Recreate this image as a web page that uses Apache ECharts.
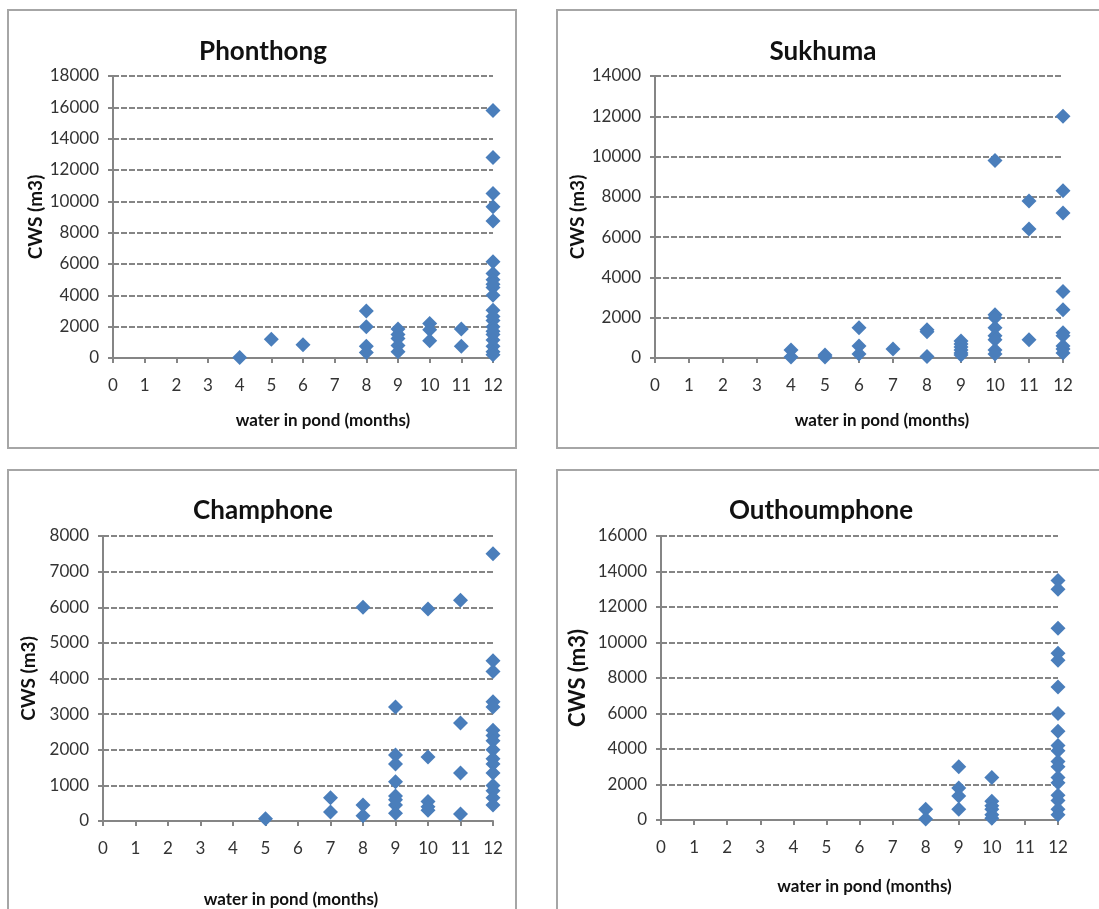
<!DOCTYPE html>
<html>
<head>
<meta charset="utf-8">
<script src="https://cdn.jsdelivr.net/npm/echarts@6/dist/echarts.min.js"></script>
<style>
  html, body { margin: 0; padding: 0; background: #fff; }
  #chart { width: 1099px; height: 909px; }
</style>
</head>
<body>
<div id="chart"></div>
<script>
// months of water in pond -> CWS values (m3)
var phonthong = [
  [4, [30]],
  [5, [1200]],
  [6, [850]],
  [8, [3000, 2000, 750, 350]],
  [9, [1850, 1500, 1250, 800, 400]],
  [10, [2200, 1800, 1100]],
  [11, [1850, 750]],
  [12, [15800, 12800, 10500, 9650, 8750, 6150, 5400, 5000, 4700, 4500, 4000, 3050, 2650, 2400, 2000, 1700, 1500, 1150, 750, 400, 200]]
];
var sukhuma = [
  [4, [400, 50]],
  [5, [150, 50]],
  [6, [1500, 600, 200]],
  [7, [450]],
  [8, [1400, 1300, 80]],
  [9, [850, 700, 550, 400, 250, 150]],
  [10, [9800, 2150, 2000, 1500, 1100, 900, 400, 200]],
  [11, [7800, 6400, 900]],
  [12, [12000, 8300, 7200, 3300, 2400, 1250, 1100, 600, 450, 250]]
];
var champhone = [
  [5, [60]],
  [7, [650, 250]],
  [8, [6000, 450, 150]],
  [9, [3200, 1850, 1600, 1100, 700, 600, 450, 220]],
  [10, [5950, 1800, 550, 400, 300]],
  [11, [6200, 2750, 1350, 200]],
  [12, [7500, 4500, 4200, 3350, 3200, 2550, 2400, 2250, 2000, 1750, 1600, 1350, 1000, 850, 650, 450]]
];
var outhoumphone = [
  [8, [600, 50]],
  [9, [3000, 1800, 1350, 600]],
  [10, [2400, 1050, 800, 600, 300, 100]],
  [12, [13500, 13000, 10800, 9400, 9000, 7500, 6000, 5000, 4200, 3900, 3300, 3000, 2400, 2100, 1400, 1100, 600, 300]]
];
var titles = ['Phonthong', 'Sukhuma', 'Champhone', 'Outhoumphone'];
var yMax = [18000, 14000, 8000, 16000];
var yStep = [2000, 2000, 1000, 2000];

function points(groups) {
  var out = [];
  groups.forEach(function (g) {
    g[1].forEach(function (v) { out.push([g[0], v]); });
  });
  return out;
}
var stations = [phonthong, sukhuma, champhone, outhoumphone];

// layout of the four panels
var grids = [
  { left: 113, top: 76, width: 380, height: 282 },
  { left: 655, top: 76, width: 408, height: 282 },
  { left: 103, top: 536, width: 390, height: 291 },
  { left: 661, top: 536, width: 397, height: 284 }
];
var titlePos = [[258, 34], [818, 34], [258, 493], [816, 493]];
var titleSize = [26, 26, 26, 26];
var xNamePad = [[0, 0, 0, 40], [0, 0, 0, 46], [0, 14, 0, 0], [0, 0, 0, 10]];
var xNameGap = [54, 54, 70, 58];
var yNameGap = [68, 68, 65, 72];
var yNameSize = [19, 19, 19, 22];
var font = 'Lato, "Open Sans", sans-serif';
var gray = '#858585';

var option = {
  animation: false,
  textStyle: { fontFamily: font },
  title: titles.map(function (t, i) {
    return {
      text: t, left: titlePos[i][0], top: titlePos[i][1], textAlign: 'center',
      textStyle: { fontFamily: font, fontSize: titleSize[i], fontWeight: 'bold', color: '#111' }
    };
  }),
  grid: grids,
  xAxis: grids.map(function (g, i) {
    return {
      gridIndex: i, type: 'value', min: 0, max: 12, interval: 1,
      name: 'water in pond (months)', nameLocation: 'middle', nameGap: xNameGap[i],
      nameTextStyle: { fontFamily: font, fontSize: 17, fontWeight: 'bold', color: '#111', padding: xNamePad[i] },
      axisLine: { lineStyle: { color: gray, width: 2 } },
      axisTick: { show: true, length: 5, lineStyle: { color: gray, width: 2 } },
      axisLabel: { fontSize: 17, color: '#333', margin: 19 },
      splitLine: { show: false }
    };
  }),
  yAxis: grids.map(function (g, i) {
    return {
      gridIndex: i, type: 'value', min: 0, max: yMax[i], interval: yStep[i],
      name: 'CWS (m3)', nameLocation: 'middle', nameGap: yNameGap[i], nameRotate: 90,
      nameTextStyle: { fontFamily: font, fontSize: yNameSize[i], fontWeight: 'bold', color: '#111' },
      axisLine: { show: true, lineStyle: { color: gray, width: 2 } },
      axisTick: { show: true, length: 5, lineStyle: { color: gray, width: 2 } },
      axisLabel: { fontSize: 17, color: '#333', margin: 14, formatter: function (v) { return String(v); } },
      splitLine: { show: true, lineStyle: { color: gray, width: 2, type: [6, 2] } }
    };
  }),
  series: stations.map(function (s, i) {
    return {
      type: 'scatter', xAxisIndex: i, yAxisIndex: i,
      symbol: 'diamond', symbolSize: 15,
      itemStyle: { color: '#4A7EBB', opacity: 1 },
      data: points(s)
    };
  }),
  graphic: [
    { type: 'rect', shape: { x: 8, y: 10, width: 508, height: 438 }, style: { fill: 'none', stroke: '#a6a6a6', lineWidth: 2 } },
    { type: 'rect', shape: { x: 557, y: 10, width: 580, height: 438 }, style: { fill: 'none', stroke: '#a6a6a6', lineWidth: 2 } },
    { type: 'rect', shape: { x: 8, y: 470, width: 508, height: 480 }, style: { fill: 'none', stroke: '#a6a6a6', lineWidth: 2 } },
    { type: 'rect', shape: { x: 557, y: 470, width: 580, height: 480 }, style: { fill: 'none', stroke: '#a6a6a6', lineWidth: 2 } }
  ]
};

var chart = echarts.init(document.getElementById('chart'));
chart.setOption(option);
</script>
</body>
</html>
